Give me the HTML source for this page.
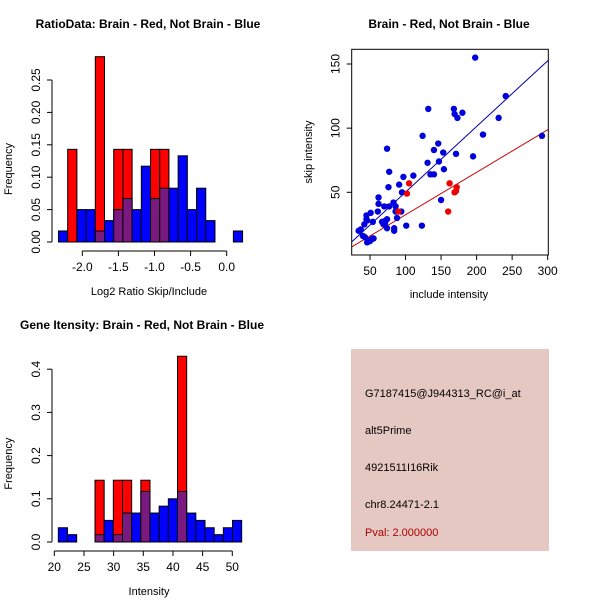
<!DOCTYPE html>
<html><head><meta charset="utf-8"><style>
body{margin:0;background:#fff;}
svg{display:block;font-family:"Liberation Sans",sans-serif;}
</style></head><body>
<svg id="s" width="600" height="600" viewBox="0 0 600 600">
<rect x="0" y="0" width="600" height="600" fill="#fff"/>
</svg>
<script>
// ---- Ratio histogram data ----
const ratioBinStart = -2.33;
const ratioBinWidth = 0.1275;
const ratioBlue = [0.017,0,0.05,0.05,0.017,0.033,0.05,0.067,0.05,0.117,0.067,0.083,0.083,0.133,0.05,0.083,0.033,0,0,0.017];
const ratioRed  = [0,0.143,0,0,0.286,0,0.143,0.143,0,0,0.143,0.143,0,0,0,0,0,0,0,0];
const ratioXTicks = [-2.0,-1.5,-1.0,-0.5,0.0];
const ratioXLabels = ["-2.0","-1.5","-1.0","-0.5","0.0"];
const ratioYTicks = [0,0.05,0.10,0.15,0.20,0.25];
const ratioYLabels = ["0.00","0.05","0.10","0.15","0.20","0.25"];
// ---- Intensity histogram data ----
const intBinStart = 20.68;
const intBinWidth = 1.545;
const intBlue = [0.033,0.017,0,0,0.017,0.05,0.017,0.067,0.067,0.117,0.067,0.083,0.1,0.117,0.067,0.05,0.033,0.017,0.033,0.05];
const intRed  = [0,0,0,0,0.143,0,0.143,0.143,0,0.143,0,0,0,0.43,0,0,0,0,0,0];
const intXTicks = [20,25,30,35,40,45,50];
const intYTicks = [0,0.1,0.2,0.3,0.4];
const intYLabels = ["0.0","0.1","0.2","0.3","0.4"];
// ---- Scatter data ----
const blueX = [198,241,132,168,169,180,173,231,124,209,292,146,74,140,153,171,147,131,195,154,77,140,135,111,97,76,91,62,95,62,83,150,70,77,86,61,45,51,46,45,42,54,67,69,74,72,86,94,88,37,34,43,40,46,50,51,54,55,74,84,84,101,123,71];
const blueY = [155,125,115,115,111,112,108,108,94,95,94,88,84,83,81,80,74,73,78,68,66,64,64,63,62,54,56,46,50,41,42,44,39,39,39,35,32,34,28,29,25,27,27,25,29,28,35,35,30,21,20,15,16,11,12,13,14,14,22,22,20,24,24,26];
const redX = [105,102,162,172,171,169,160,90];
const redY = [57,49,57,54,51,50,35,35];
const blueFit = [-1.1,0.512];
const redFit = [-0.6,0.331];
const scXTicks = [50,100,150,200,250,300];
const scYTicks = [50,100,150];

const NS="http://www.w3.org/2000/svg";
const svg=document.getElementById('s');
function el(tag,attrs,parent){const e=document.createElementNS(NS,tag);for(const k in attrs)e.setAttribute(k,attrs[k]);(parent||svg).appendChild(e);return e;}
function txt(x,y,s,attrs){const t=el('text',Object.assign({x:x,y:y,'text-anchor':'middle','font-size':11,fill:'#000'},attrs||{}));t.textContent=s;return t;}

function hist(name,xs,ys,start,w,blue,red,xt,xl,yt,yl,axY,axX,xlab,xlabX,title,titleX,titleY){
  const grp=el('g',{});
  
  
  for(let i=0;i<blue.length;i++){
    const x0=xs(start+i*w),x1=xs(start+(i+1)*w);
    if(red[i]>0){const r=el('rect',{x:x0,y:ys(red[i]),width:x1-x0,height:ys(0)-ys(red[i]),fill:'#ff0000',stroke:'#000','stroke-width':1},grp);
      
      }
    if(blue[i]>0){const v=blue[i];const col=red[i]>0?'#7a1a80':'#0000ff';
      const b=el('rect',{x:x0,y:ys(v),width:x1-x0,height:ys(0)-ys(v),fill:col,stroke:'#000','stroke-width':1},grp);
      
      }
  }
  el('line',{x1:xs(xt[0]),x2:xs(xt[xt.length-1]),y1:axY,y2:axY,stroke:'#000'},grp);
  xt.forEach((t,i)=>{el('line',{x1:xs(t),x2:xs(t),y1:axY,y2:axY+5,stroke:'#000'},grp);
    const l=txt(xs(t),axY+20,xl[i],{'font-size':12});grp.appendChild(l);
    
    });
  el('line',{x1:axX,x2:axX,y1:ys(yt[0]),y2:ys(yt[yt.length-1]),stroke:'#000'},grp);
  yt.forEach((t,i)=>{el('line',{x1:axX,x2:axX-5,y1:ys(t),y2:ys(t),stroke:'#000'},grp);
    const l=txt(0,0,yl[i],{'font-size':12,transform:`translate(${axX-12},${ys(t)}) rotate(-90)`});grp.appendChild(l);
    
    });
  const xa=txt(xlabX,axY+44,xlab,{'font-size':11});
  
  
  const ya=txt(0,0,'Frequency',{'font-size':11,transform:`translate(12,${(ys(yt[0])+ys(yt[yt.length-1]))/2+8}) rotate(-90)`});
  
  
  const tt=txt(titleX,titleY,title,{'font-size':12,'font-weight':'bold'});
  
  
}

{
  const xs=v=>82.3+(v+2)*72.2;
  const ys=v=>242-v*648;
  hist('ratio-histogram',xs,ys,ratioBinStart,ratioBinWidth,ratioBlue,ratioRed,ratioXTicks,ratioXLabels,ratioYTicks,ratioYLabels,251,52,'Log2 Ratio Skip/Include',149,'RatioData: Brain - Red, Not Brain - Blue',148,28);
}
{
  const xs=v=>54.3+(v-20)*5.933;
  const ys=v=>542-v*432;
  hist('intensity-histogram',xs,ys,intBinStart,intBinWidth,intBlue,intRed,intXTicks,intXTicks.map(String),intYTicks,intYLabels,551,52,'Intensity',149,'Gene Itensity: Brain - Red, Not Brain - Blue',142,329);
}
{
  const L=351.7,R=548.3,T=49.3,B=255;
  const xs=v=>370+(v-50)*0.7107;
  const ys=v=>192.3-(v-50)*1.283;
  const g=el('g',{});
  
  
  const clip=el('clipPath',{id:'cp'},g);el('rect',{x:L,y:T,width:R-L,height:B-T},clip);
  const xL=(L-370)/0.7107+50,xR=(R-370)/0.7107+50;
  [[blueFit,'#0000aa','blue-fit-line'],[redFit,'#cc0000','red-fit-line']].forEach(([f,c,n])=>{
    const ln=el('line',{x1:xs(xL),y1:ys(f[0]+f[1]*xL),x2:xs(xR),y2:ys(f[0]+f[1]*xR),stroke:c,'stroke-width':1,'clip-path':'url(#cp)'},g);
    
    
  });
  for(let i=0;i<blueX.length;i++){const c=el('circle',{cx:xs(blueX[i]),cy:ys(blueY[i]),r:3.2,fill:'#0000dd'},g);
    
    }
  for(let i=0;i<redX.length;i++){const c=el('circle',{cx:xs(redX[i]),cy:ys(redY[i]),r:3.2,fill:'#ee0000'},g);
    
    }
  el('rect',{x:L,y:T,width:R-L,height:B-T,fill:'none',stroke:'#000'},g);
  scXTicks.forEach(t=>{el('line',{x1:xs(t),x2:xs(t),y1:B,y2:B+5,stroke:'#000'},g);
    const l=txt(xs(t),B+20,String(t),{'font-size':12});
    
    });
  scYTicks.forEach(t=>{el('line',{x1:L,x2:L-5,y1:ys(t),y2:ys(t),stroke:'#000'},g);
    const l=txt(0,0,String(t),{'font-size':12,transform:`translate(${L-12},${ys(t)}) rotate(-90)`});
    
    });
  const xa=txt(449,298,'include intensity',{'font-size':11});
  
  
  const ya=txt(0,0,'skip intensity',{'font-size':11,transform:'translate(312,152) rotate(-90)'});
  
  
  const tt=txt(449,28,'Brain - Red, Not Brain - Blue',{'font-size':12,'font-weight':'bold'});
  
  
}
{
  const g=el('g',{});
  
  
  el('rect',{x:351,y:349,width:198,height:202,fill:'#e6c8c2'},g);
  const lines=[['G7187415@J944313_RC@i_at',397,'#000','probe-id'],['alt5Prime',434,'#000','event-type'],['4921511I16Rik',471,'#000','gene-name'],['chr8.24471-2.1',508,'#000','location'],['Pval: 2.000000',536,'#aa0000','p-value']];
  lines.forEach(([s,y,c,n])=>{const t=txt(365,y,s,{'text-anchor':'start','font-size':11,fill:c});
    
    });
}
</script>
</body></html>
